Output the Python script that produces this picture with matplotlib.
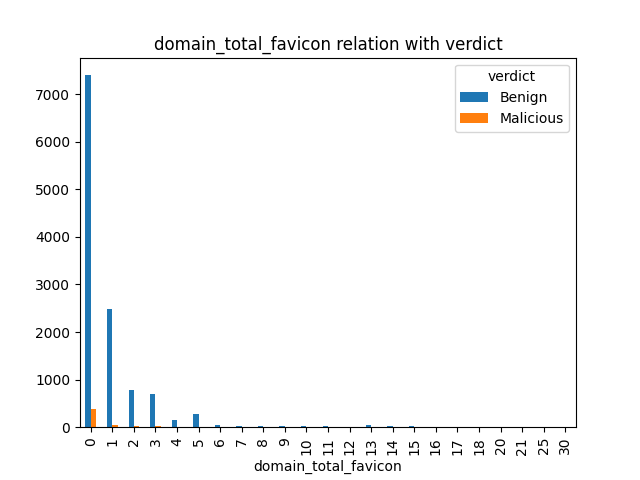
"""Bar chart of domain_total_favicon counts per verdict."""

import numpy as np
from matplotlib import pyplot as plt

categories = ['0', '1', '2', '3', '4', '5', '6', '7', '8', '9', '10', '11', '12', '13',
              '14', '15', '16', '17', '18', '20', '21', '25', '30']
benign = [7400, 2480, 790, 700, 150, 280, 50, 30, 25, 25, 20, 15, 5, 40, 25, 15, 5, 5, 3, 3, 3, 3, 3]
malicious = [380, 45, 25, 15, 3, 5, 2, 1, 1, 1, 1, 1, 0, 1, 1, 0, 0, 0, 0, 0, 0, 0, 0]

fig, ax = plt.subplots()
x = np.arange(len(categories))
width = 0.25
ax.bar(x - width / 2, benign, width, label='Benign')
ax.bar(x + width / 2, malicious, width, label='Malicious')
ax.set_xlim(-0.5, len(categories) - 0.5)
ax.set_xticks(x)
ax.set_xticklabels(categories, rotation=90)
ax.set_xlabel('domain_total_favicon')
ax.set_title('domain_total_favicon relation with verdict')
ax.legend(title='verdict')
plt.savefig('out.png')
